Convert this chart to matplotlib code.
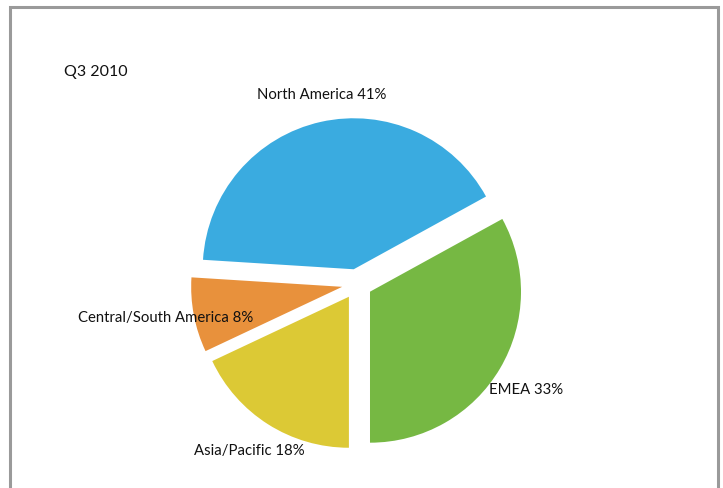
import matplotlib
matplotlib.use("Agg")
import matplotlib.pyplot as plt
from matplotlib.patches import Rectangle

title = "Q3 2010"
regions = ["EMEA", "North America", "Central/South America", "Asia/Pacific"]
shares = [33, 41, 8, 18]
colors = ["#76b843", "#3aabe0", "#e8913c", "#dcc935"]
explode = [0.1, 0.1, 0.1, 0.1]

W, H = 723, 489
fig = plt.figure(figsize=(W / 100, H / 100), dpi=100)
fig.patch.set_facecolor("white")

# frame around the chart (open at the bottom, as in the reference)
fig.patches.append(Rectangle((10 / W, -0.1), 708 / W, 1.1 - 8 / H,
                             transform=fig.transFigure, fill=False,
                             edgecolor="#9a9a9a", linewidth=2.2))

ax = fig.add_axes([0, 0, 1, 1])
ax.pie(shares, colors=colors, explode=explode, startangle=-90,
       counterclock=True, radius=1.0, wedgeprops=dict(linewidth=0))
ax.set_axis_off()
scale = 151.0  # px per unit radius
cx, cy = 357, H - 285
ax.set_xlim(-cx / scale, (W - cx) / scale)
ax.set_ylim(-cy / scale, (H - cy) / scale)
ax.set_aspect("equal")

font = "Lato"
labels = [f"{r} {s}%" for r, s in zip(regions, shares)]
label_pos = [  # (x px, y px, ha)
    (489, 390, "left"),
    (322, 95, "center"),
    (253, 318, "right"),
    (249, 451, "center"),
]
for lab, (x, y, ha) in zip(labels, label_pos):
    fig.text(x / W, 1 - y / H, lab, ha=ha, va="center", fontsize=10.7,
             family=font, color="#111111")

fig.text(64 / W, 1 - 72 / H, title, ha="left", va="center", fontsize=11.5,
         family=font, color="#111111")

fig.savefig("out.png", dpi=100, facecolor="white")
